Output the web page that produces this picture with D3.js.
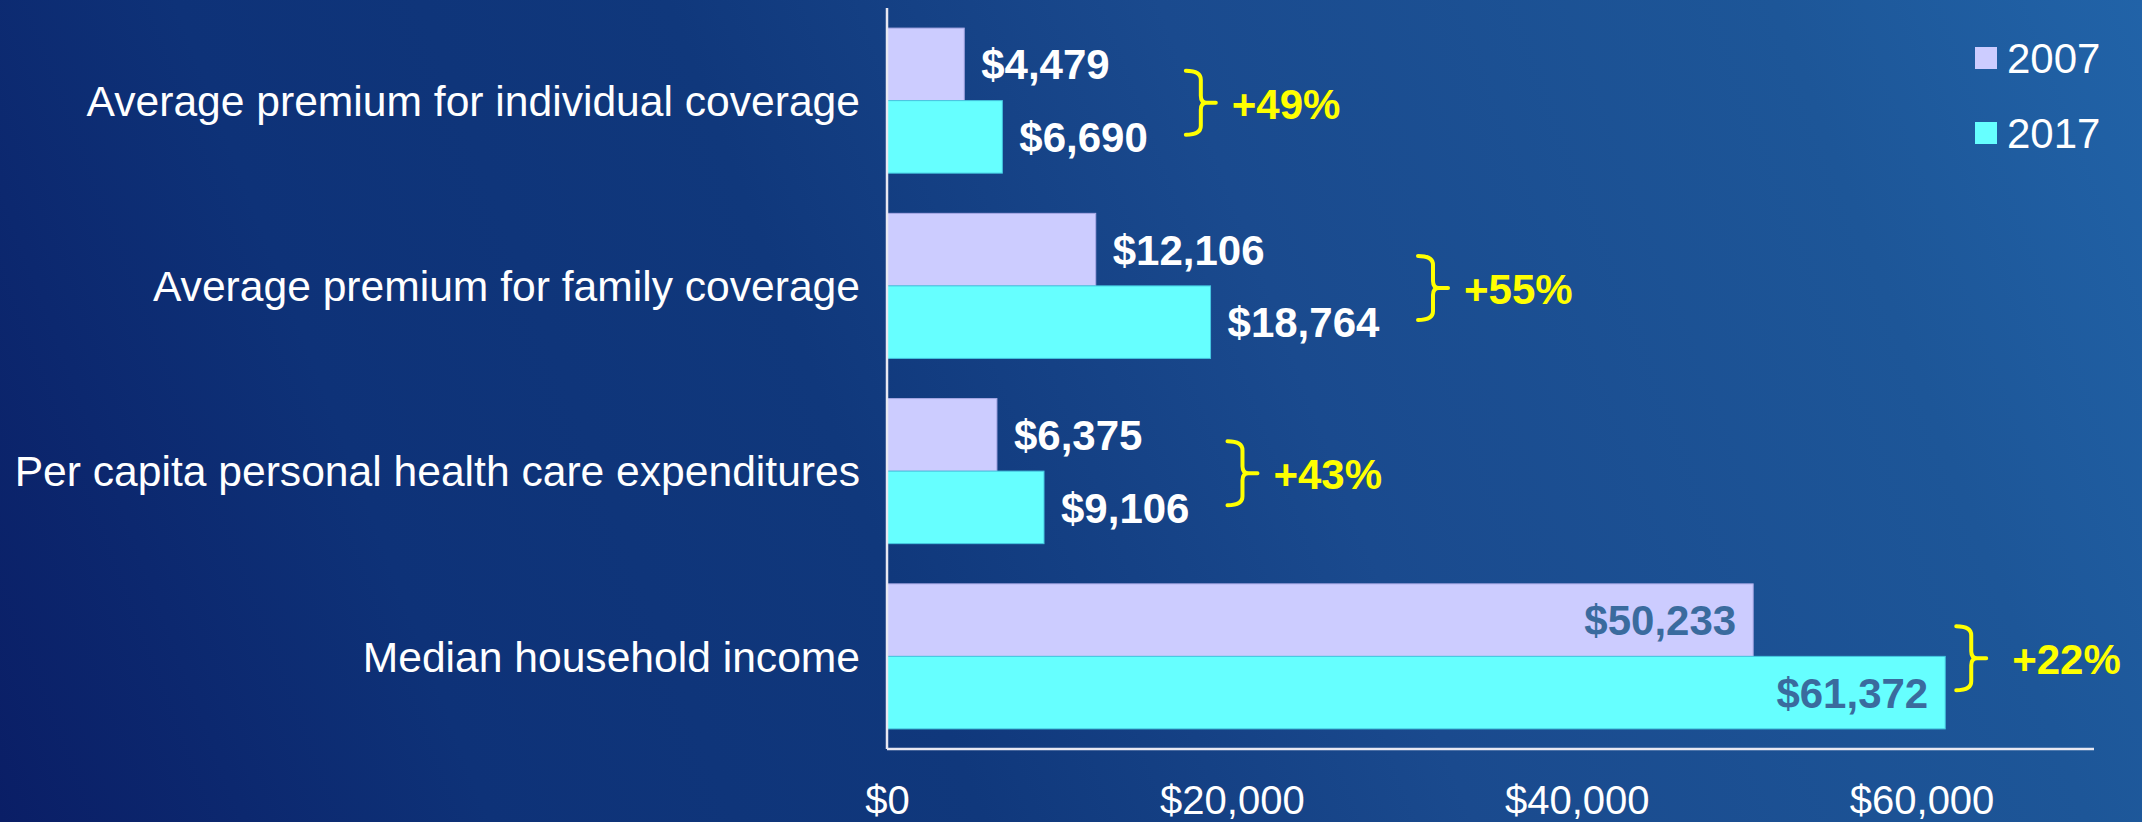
<!DOCTYPE html>
<html>
<head>
<meta charset="utf-8">
<script src="https://cdn.jsdelivr.net/npm/d3@7"></script>
<style>
  html, body { margin: 0; padding: 0; background: #0E3278; }
  svg { display: block; }
  text { font-family: "Liberation Sans", Arial, sans-serif; }
</style>
</head>
<body>
<svg id="chart" width="2142" height="822"></svg>
<script>
// ---- data ----
const categories = [
  "Average premium for individual coverage",
  "Average premium for family coverage",
  "Per capita personal health care expenditures",
  "Median household income"
];
const seriesNames = ["2007", "2017"];
const values2007 = [4479, 12106, 6375, 50233];
const values2017 = [6690, 18764, 9106, 61372];
const tickValues = [0, 20000, 40000, 60000];
const xMax = 70000;

// ---- layout ----
const W = 2142, H = 822;
const plot = { left: 887, right: 2094, top: 8, bottom: 749 };
const colors = { "2007": "#CCCCFF", "2017": "#66FFFF" };
const strokes = { "2007": "#A9A9E6", "2017": "#44C6E0" };

const svg = d3.select("#chart");

// background gradient
const defs = svg.append("defs");
const grad = defs.append("linearGradient")
  .attr("id", "bg").attr("gradientUnits", "userSpaceOnUse")
  .attr("x1", 0).attr("y1", H).attr("x2", W).attr("y2", 0);
[[0, "#0A1E66"], [0.2, "#0E3278"], [0.4, "#10387C"], [0.6, "#1A4A8E"], [0.85, "#1D5698"], [1, "#2163A8"]]
  .forEach(([o, c]) => grad.append("stop").attr("offset", o).attr("stop-color", c));
svg.append("rect").attr("width", W).attr("height", H).attr("fill", "url(#bg)");

const x = d3.scaleLinear().domain([0, xMax]).range([plot.left, plot.right]);
const y = d3.scaleBand().domain(categories).range([plot.top, plot.bottom])
  .paddingInner(0.217).paddingOuter(0.1085);
const ySub = d3.scaleBand().domain(seriesNames).range([0, y.bandwidth()]);

const rows = categories.map((c, i) => ({
  cat: c,
  bars: [
    { s: "2007", v: values2007[i] },
    { s: "2017", v: values2017[i] }
  ]
}));

// bars
const g = svg.append("g");
const groups = g.selectAll("g.row").data(rows).join("g")
  .attr("class", "row")
  .attr("transform", d => `translate(0,${y(d.cat)})`);

groups.selectAll("rect").data(d => d.bars).join("rect")
  .attr("x", x(0))
  .attr("y", d => ySub(d.s))
  .attr("width", d => x(d.v) - x(0))
  .attr("height", ySub.bandwidth())
  .attr("fill", d => colors[d.s])
  .attr("stroke", d => strokes[d.s])
  .attr("stroke-width", 1);

// value labels
const fmt = d3.format("$,");
const insideThreshold = 40000;
groups.selectAll("text.val").data(d => d.bars).join("text")
  .attr("class", "val")
  .attr("x", d => d.v > insideThreshold ? x(d.v) - 17 : x(d.v) + 17)
  .attr("y", d => ySub(d.s) + ySub.bandwidth() / 2)
  .attr("dy", "0.36em")
  .attr("text-anchor", d => d.v > insideThreshold ? "end" : "start")
  .attr("font-size", 42)
  .attr("font-weight", "bold")
  .attr("fill", d => d.v > insideThreshold ? "#3A6B9E" : "#FFFFFF")
  .text(d => fmt(d.v));

// braces + percentage change
const pct = d3.format("+.0%");
groups.each(function(d) {
  const grp = d3.select(this);
  let right = 0;
  grp.selectAll("text.val").each(function(t) {
    const bb = this.getBBox();
    right = Math.max(right, t.v > insideThreshold ? x(t.v) : bb.x + bb.width);
  });
  const inside = d.bars.some(b => b.v > insideThreshold);
  const x0 = right + (inside ? 11 : 38);
  const cy = y.bandwidth() / 2 + 2;
  const h = 32;
  const path = `M${x0},${cy - h} Q${x0 + 15},${cy - h} ${x0 + 15},${cy - h + 9}` +
    ` L${x0 + 15},${cy - 7} Q${x0 + 15},${cy} ${x0 + 21},${cy} L${x0 + 30},${cy}` +
    ` M${x0 + 21},${cy} Q${x0 + 15},${cy} ${x0 + 15},${cy + 7}` +
    ` L${x0 + 15},${cy + h - 9} Q${x0 + 15},${cy + h} ${x0},${cy + h}`;
  grp.append("path").attr("d", path)
    .attr("fill", "none").attr("stroke", "#FFFF00")
    .attr("stroke-width", 4).attr("stroke-linecap", "round").attr("stroke-linejoin", "round");
  const change = d.bars[1].v / d.bars[0].v - 1;
  grp.append("text")
    .attr("x", x0 + (inside ? 56 : 46)).attr("y", cy + 1).attr("dy", "0.36em")
    .attr("font-size", 42).attr("font-weight", "bold").attr("fill", "#FFFF00")
    .text(pct(change));
});

// category axis labels
svg.append("g").selectAll("text").data(categories).join("text")
  .attr("x", 860)
  .attr("y", d => y(d) + y.bandwidth() / 2)
  .attr("dy", "0.36em")
  .attr("text-anchor", "end")
  .attr("font-size", 42.6)
  .attr("fill", "#FFFFFF")
  .text(d => d);

// axes lines
svg.append("line").attr("x1", plot.left).attr("x2", plot.left)
  .attr("y1", plot.top).attr("y2", plot.bottom)
  .attr("stroke", "#E8E8F2").attr("stroke-width", 2.5);
svg.append("line").attr("x1", plot.left).attr("x2", plot.right)
  .attr("y1", plot.bottom).attr("y2", plot.bottom)
  .attr("stroke", "#E8E8F2").attr("stroke-width", 2.5);

// x tick labels via d3 axis
const xAxis = d3.axisBottom(x).tickValues(tickValues).tickFormat(d3.format("$,")).tickSize(0).tickPadding(0);
const axG = svg.append("g").attr("transform", `translate(0,${plot.bottom})`).call(xAxis);
axG.select(".domain").remove();
axG.selectAll("text")
  .attr("y", 65).attr("dy", 0)
  .attr("font-size", 40)
  .attr("fill", "#FFFFFF")
  .style("font-family", '"Liberation Sans", Arial, sans-serif');

// legend
const legend = svg.append("g");
const legRows = legend.selectAll("g").data(seriesNames).join("g")
  .attr("transform", (d, i) => `translate(1975,${58 + i * 75})`);
legRows.append("rect").attr("x", 0).attr("y", -11).attr("width", 22).attr("height", 22)
  .attr("fill", d => colors[d]);
legRows.append("text").attr("x", 32).attr("y", 0).attr("dy", "0.36em")
  .attr("font-size", 42).attr("fill", "#FFFFFF").text(d => d);
</script>
</body>
</html>
